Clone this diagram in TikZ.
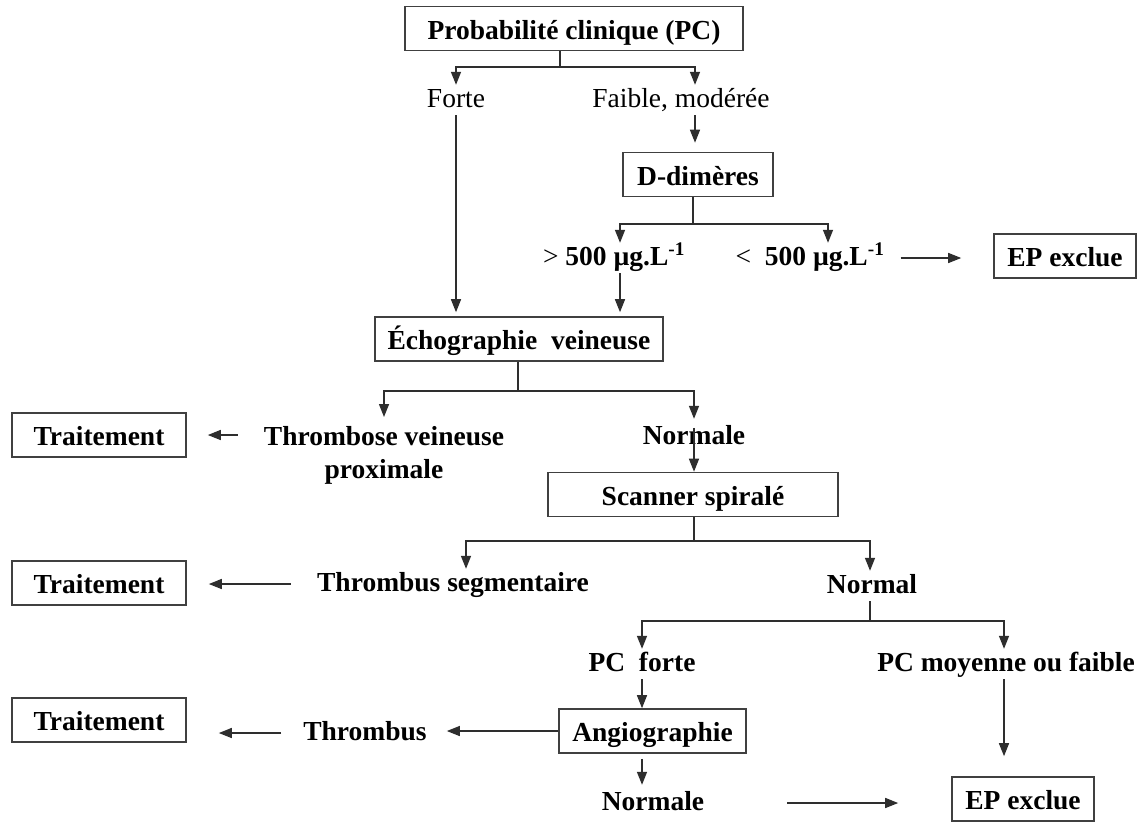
\documentclass[tikz,border=0pt]{standalone}
\usepackage{fontspec}
\setmainfont{Liberation Serif}
\usetikzlibrary{arrows.meta,calc}

\begin{document}
\begin{tikzpicture}[x=1pt,y=-1pt,
  every node/.style={font=\fontsize{27.5}{33}\selectfont\bfseries,
    text height=19pt, text depth=5pt, inner sep=3pt},
  box/.style={draw=black!75, line width=1.6pt, minimum height=44pt, inner sep=0pt,
    text height=21pt, text depth=0pt},
  lbl/.style={anchor=base},
  light/.style={anchor=base, font=\fontsize{27.5}{33}\selectfont\mdseries},
  conn/.style={draw=black!82, line width=1.4pt},
  arr/.style={conn, -{Triangle[length=13pt,width=10pt]}}]

\fill[white] (0,0) rectangle (1147,823);
\useasboundingbox (0,0) rectangle (1147,823);

% ---- boxes ----
\node[box, minimum width=338pt] (pc)   at (574,28.5)  {Probabilité clinique (PC)};
\node[box, minimum width=150pt] (dd)   at (698,174.5) {D-dimères};
\node[box, minimum width=142pt] (ep1)  at (1065,256)  {EP exclue};
\node[box, minimum width=288pt] (echo) at (519,339)   {Échographie\ \ veineuse};
\node[box, minimum width=174pt] (tr1)  at (99,435)    {Traitement};
\node[box, minimum width=290pt] (scan) at (693,494.5) {Scanner spiralé};
\node[box, minimum width=174pt] (tr2)  at (99,583)    {Traitement};
\node[box, minimum width=187pt] (angio) at (652.5,731) {Angiographie};
\node[box, minimum width=174pt] (tr3)  at (99,720)    {Traitement};
\node[box, minimum width=142pt] (ep2)  at (1023,799)  {EP exclue};

% ---- labels ----
\node[light] (forte)  at (456,107) {Forte};
\node[light] (faible) at (681,107) {Faible, modérée};
\node[lbl] (sup) at (614,265) {{\mdseries >} 500 µg.L\textsuperscript{-1}};
\node[lbl] (inf) at (810,265) {{\mdseries <}\ \ 500 µg.L\textsuperscript{-1}};
\node[anchor=north, align=center, text height=, text depth=] (tvp) at (384,423)
  {Thrombose veineuse\\proximale};
\node[lbl] (nm1)  at (694,444)  {Normale};
\node[lbl] (tseg) at (453,591)  {Thrombus segmentaire};
\node[lbl] (nm)   at (872,593)  {Normal};
\node[lbl] (pcf)  at (642,671)  {PC\ \ forte};
\node[lbl] (pcm)  at (1006,671) {PC moyenne ou faible};
\node[lbl] (thr)  at (365,740)  {Thrombus};
\node[lbl] (nm2)  at (653,810)  {Normale};

% ---- branch points ----
\coordinate (s1) at (560,67);
\coordinate (s2) at (693,224);
\coordinate (s3) at (518,391);
\coordinate (s4) at (694,541);
\coordinate (s5) at (870,621);

% ---- connectors ----
\draw[conn] (pc.south -| s1) -- (s1);
\draw[arr] (s1) -| (forte.north);
\draw[arr] (s1) -| ([xshift=14pt]faible.north);
\draw[arr, shorten >=9pt] ([xshift=14pt]faible.south) -- ([xshift=14pt]faible.south |- dd.north);

\draw[conn] (dd.south -| s2) -- (s2);
\draw[arr] (s2) -| ([xshift=6pt]sup.north);
\draw[arr] (s2) -| ([xshift=18pt]inf.north);
\draw[arr, shorten <=13pt, shorten >=32pt] (inf.east) -- (inf.east -| ep1.west);

\draw[arr, shorten >=4pt] (forte.south) -- (forte.south |- echo.north);
\draw[arr, shorten >=4pt] ([xshift=6pt]sup.south) -- ([xshift=6pt]sup.south |- echo.north);

\draw[conn] (echo.south -| s3) -- (s3);
\draw[arr, shorten >=6pt] (s3) -| (tvp.north);
\draw[arr, shorten >=3pt] (s3) -| (nm1.north);
\draw[arr, shorten <=23pt, shorten >=21pt] (tvp.west |- tr1.east) -- (tr1.east);
\draw[arr, shorten <=6pt] (nm1.north) -- (nm1.north |- scan.north);

\draw[conn] (scan.south -| s4) -- (s4);
\draw[arr] (s4) -| ([xshift=13pt]tseg.north);
\draw[arr] (s4) -| ([xshift=-2pt]nm.north);
\draw[arr, shorten <=23pt, shorten >=22pt] (tseg.west) -- (tseg.west -| tr2.east);

\draw[conn] ([xshift=-2pt]nm.south) -- (s5);
\draw[arr] (s5) -| (pcf.north);
\draw[arr] (s5) -| ([xshift=-2pt]pcm.north);
\draw[arr] (pcf.south) -- (pcf.south |- angio.north);
\draw[arr, shorten >=17pt] (angio.west) -- (angio.west -| thr.east);
\draw[arr, shorten <=19pt, shorten >=32pt] (thr.west) -- (thr.west -| tr3.east);
\draw[arr, shorten <=5pt, shorten >=3pt] (pcf.south |- angio.south) -- (pcf.south |- nm2.north);
\draw[arr, shorten <=80pt, shorten >=53pt] (nm2.east) -- (nm2.east -| ep2.west);
\draw[arr, shorten >=20pt] ([xshift=-2pt]pcm.south) -- ([xshift=-2pt]pcm.south |- ep2.north);

\end{tikzpicture}
\end{document}
